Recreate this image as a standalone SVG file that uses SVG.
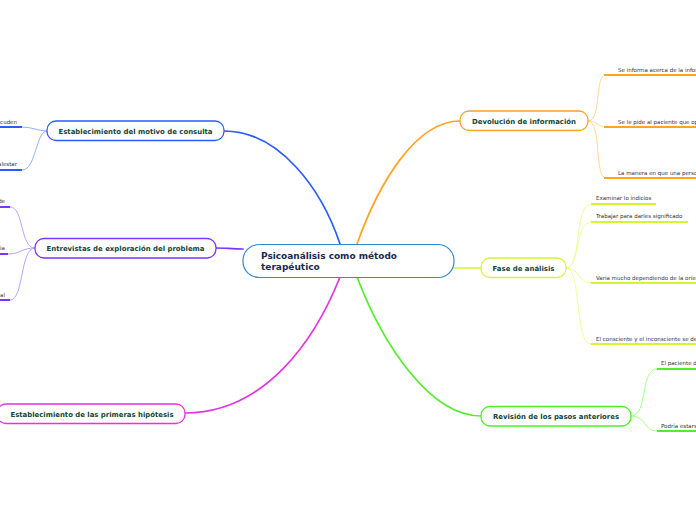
<svg xmlns="http://www.w3.org/2000/svg" width="696" height="520" viewBox="0 0 696 520">
<style>
.topic{fill:#fff;stroke-width:1.3}
.tt{font-family:"DejaVu Sans",Verdana,sans-serif;font-weight:bold;font-size:7px;fill:#134437;text-anchor:middle}
.st{font-family:"DejaVu Sans",Verdana,sans-serif;font-size:5.5px;fill:#333}
.c{fill:none;stroke-width:1.7;stroke-linecap:round}
.sc{fill:none;stroke-width:0.9}
.ul{fill:none;stroke-width:2}
</style>
<rect width="696" height="520" fill="#fff"/>
<g id="connectors">
  <path class="c" stroke="#2a5cff" d="M340,244 C322,190 280,131 224,131"/>
  <path class="c" stroke="#7a35ff" d="M243,249 C232,249 225,248 216,248"/>
  <path class="c" stroke="#e632e6" d="M340,277 C315,340 265,413 185,413"/>
  <path class="c" stroke="#ffa420" d="M357,244 C378,185 415,121 460,121"/>
  <path class="c" stroke="#d4f530" d="M454,268 L481,268"/>
  <path class="c" stroke="#50ee2a" d="M357,277 C383,345 430,416 481,416"/>
  <path class="sc" stroke="#88a8ff" d="M47,131 C38,131 32,127 22,127"/>
  <path class="sc" stroke="#88a8ff" d="M47,131 C36,131 36,170 22,170"/>
  <path class="sc" stroke="#b29aff" d="M35,248 C20,248 24,207 10,207"/>
  <path class="sc" stroke="#b29aff" d="M35,248 C22,248 20,254 8,254"/>
  <path class="sc" stroke="#b29aff" d="M35,248 C20,248 24,300 10,300"/>
  <path class="sc" stroke="#ffd28a" d="M588,121 C602,121 594,75 606,75"/>
  <path class="sc" stroke="#ffd28a" d="M588,121 C598,121 598,127 606,127"/>
  <path class="sc" stroke="#ffd28a" d="M588,121 C602,121 594,178 606,178"/>
  <path class="sc" stroke="#eaff8a" d="M566,268 C582,268 574,204 591,204"/>
  <path class="sc" stroke="#eaff8a" d="M566,268 C580,268 575,222 591,222"/>
  <path class="sc" stroke="#eaff8a" d="M566,268 C580,268 578,283 591,283"/>
  <path class="sc" stroke="#eaff8a" d="M566,268 C582,268 574,344 591,344"/>
  <path class="sc" stroke="#9dff80" d="M631,416 C648,416 640,369 657,369"/>
  <path class="sc" stroke="#9dff80" d="M631,416 C646,416 644,431 657,431"/>
</g>
<g id="central">
  <rect x="243" y="244.5" width="211" height="33" rx="16" fill="#fff" stroke="#2e8bcc" stroke-width="1.2"/>
  <text x="261" y="259" font-family="'DejaVu Sans',Verdana,sans-serif" font-weight="bold" font-size="9" fill="#1b2a52" textLength="136" lengthAdjust="spacingAndGlyphs">Psicoanálisis como método</text>
  <text x="261" y="270" font-family="'DejaVu Sans',Verdana,sans-serif" font-weight="bold" font-size="9" fill="#1b2a52">terapéutico</text>
</g>
<g id="motivo">
  <rect class="topic" x="47" y="121" width="177" height="19.5" rx="9" stroke="#2a5cff"/>
  <text class="tt" x="135.5" y="133.5" textLength="154" lengthAdjust="spacingAndGlyphs">Establecimiento del motivo de consulta</text>
</g>
<g id="motivo-sub1">
  <path class="ul" stroke="#2a5cff" d="M0,127 L22,127"/>
  <text class="st" x="17" y="124" text-anchor="end">acuden</text>
</g>
<g id="motivo-sub2">
  <path class="ul" stroke="#2a5cff" d="M0,170 L22,170"/>
  <text class="st" x="17" y="166" text-anchor="end">alestar</text>
</g>
<g id="entrevistas">
  <rect class="topic" x="35" y="238.5" width="181" height="19.5" rx="9" stroke="#7a35ff"/>
  <text class="tt" x="125.5" y="251" textLength="158" lengthAdjust="spacingAndGlyphs">Entrevistas de exploración del problema</text>
</g>
<g id="entrevistas-sub1">
  <path class="ul" stroke="#7a35ff" d="M0,207 L10,207"/>
  <text class="st" x="5" y="203" text-anchor="end">de</text>
</g>
<g id="entrevistas-sub2">
  <path class="ul" stroke="#7a35ff" d="M0,254 L8,254"/>
  <text class="st" x="5" y="250" text-anchor="end">ia</text>
</g>
<g id="entrevistas-sub3">
  <path class="ul" stroke="#7a35ff" d="M0,300 L10,300"/>
  <text class="st" x="5" y="296.5" text-anchor="end">al</text>
</g>
<g id="hipotesis">
  <rect class="topic" x="-3" y="404" width="188" height="19.5" rx="9" stroke="#e632e6"/>
  <text class="tt" x="92" y="416.5" textLength="163" lengthAdjust="spacingAndGlyphs">Establecimiento de las primeras hipótesis</text>
</g>
<g id="devolucion">
  <rect class="topic" x="460" y="111" width="128" height="19.5" rx="9" stroke="#ffa420"/>
  <text class="tt" x="524" y="123.5" textLength="104" lengthAdjust="spacingAndGlyphs">Devolución de información</text>
</g>
<g id="devolucion-sub1">
  <path class="ul" stroke="#ffa420" d="M604,75 L696,75"/>
  <text class="st" x="618" y="71.5">Se informa acerca de la información</text>
</g>
<g id="devolucion-sub2">
  <path class="ul" stroke="#ffa420" d="M604,127 L696,127"/>
  <text class="st" x="618" y="123.5">Se le pide al paciente que opine</text>
</g>
<g id="devolucion-sub3">
  <path class="ul" stroke="#ffa420" d="M604,178 L696,178"/>
  <text class="st" x="618" y="174.5">La manera en que una persona</text>
</g>
<g id="analisis">
  <rect class="topic" x="481" y="258" width="85" height="19.5" rx="9" stroke="#d4f530"/>
  <text class="tt" x="523.5" y="270.5" textLength="62" lengthAdjust="spacingAndGlyphs">Fase de análisis</text>
</g>
<g id="analisis-sub1">
  <path class="ul" stroke="#d4f530" d="M591,204 L656,204"/>
  <text class="st" x="596" y="200">Examinar lo indicios</text>
</g>
<g id="analisis-sub2">
  <path class="ul" stroke="#d4f530" d="M591,222 L688,222"/>
  <text class="st" x="596" y="218">Trabajar para darles significado</text>
</g>
<g id="analisis-sub3">
  <path class="ul" stroke="#d4f530" d="M591,283 L696,283"/>
  <text class="st" x="596" y="279.5">Varia mucho dependiendo de la orientación</text>
</g>
<g id="analisis-sub4">
  <path class="ul" stroke="#d4f530" d="M591,344 L696,344"/>
  <text class="st" x="596" y="340.5">El consciente y el inconsciente se deben</text>
</g>
<g id="revision">
  <rect class="topic" x="481" y="406.5" width="150" height="19.5" rx="9" stroke="#50ee2a"/>
  <text class="tt" x="556" y="419" textLength="126" lengthAdjust="spacingAndGlyphs">Revisión de los pasos anteriores</text>
</g>
<g id="revision-sub1">
  <path class="ul" stroke="#50ee2a" d="M657,369 L696,369"/>
  <text class="st" x="661" y="365">El paciente debe</text>
</g>
<g id="revision-sub2">
  <path class="ul" stroke="#50ee2a" d="M657,431 L696,431"/>
  <text class="st" x="661" y="427.5">Podría estarse</text>
</g>
</svg>
